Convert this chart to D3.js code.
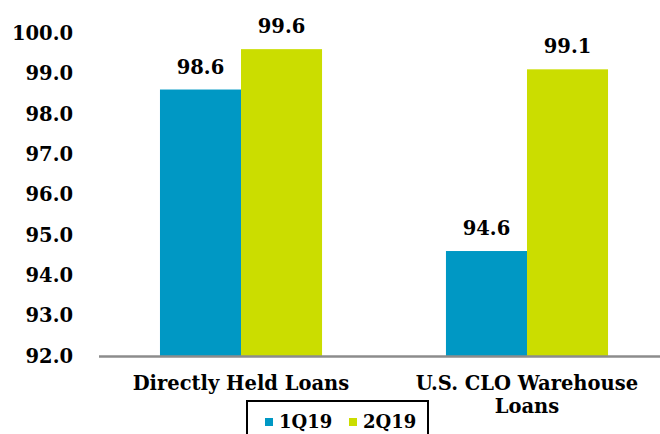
<!DOCTYPE html>
<html>
<head>
<meta charset="utf-8">
<script src="https://cdn.jsdelivr.net/npm/d3@7"></script>
<style>
  html, body { margin: 0; padding: 0; background: #fff; }
  svg { display: block; }
</style>
</head>
<body>
<svg id="chart" width="660" height="434"></svg>
<script>
// Loan price averages by category and quarter
const categories = ["Directly Held Loans", "U.S. CLO Warehouse Loans"];
const categoryLines = [["Directly Held Loans"], ["U.S. CLO Warehouse", "Loans"]];
const seriesNames = ["1Q19", "2Q19"];
const values1Q19 = [98.6, 94.6];
const values2Q19 = [99.6, 99.1];
const yTicks = [92, 93, 94, 95, 96, 97, 98, 99, 100];
const colors = ["#0098c4", "#cbdd00"];

const FONT = "DejaVu Serif";
const seriesValues = [values1Q19, values2Q19];
const svg = d3.select("#chart");

function styleText(sel, size) {
  return sel.attr("font-family", FONT)
    .attr("font-weight", "bold")
    .attr("font-size", size)
    .attr("fill", "#000");
}

const x = d3.scaleBand()
  .domain(categories)
  .range([98, 670])
  .paddingInner(0.4333)
  .paddingOuter(0.2167);

const xInner = d3.scaleBand()
  .domain(seriesNames)
  .range([0, x.bandwidth()]);

const y = d3.scaleLinear()
  .domain([92, 100])
  .range([356, 33]);

// Y-axis labels (no axis line or tick marks)
const yAxis = d3.axisLeft(y)
  .tickValues(yTicks)
  .tickFormat(d3.format(".1f"))
  .tickSize(0)
  .tickPadding(0);

svg.append("g")
  .attr("transform", "translate(73,0)")
  .call(yAxis)
  .call(g => g.attr("font-family", FONT))
  .call(g => g.select(".domain").remove())
  .call(g => styleText(g.selectAll("text"), 19.5));

// Bars
const groups = svg.append("g")
  .selectAll("g")
  .data(categories)
  .join("g")
  .attr("transform", d => `translate(${x(d)},0)`);

const barData = (d, i) => seriesNames.map((s, j) => ({ s, j, v: seriesValues[j][i] }));

groups.selectAll("rect")
  .data(barData)
  .join("rect")
  .attr("x", d => xInner(d.s))
  .attr("y", d => y(d.v))
  .attr("width", xInner.bandwidth())
  .attr("height", d => y(92) - y(d.v))
  .attr("fill", d => colors[d.j]);

// Value labels above bars
groups.selectAll("text.value")
  .data(barData)
  .join("text")
  .attr("class", "value")
  .attr("x", d => xInner(d.s) + xInner.bandwidth() / 2)
  .attr("y", d => y(d.v) - 16)
  .attr("text-anchor", "middle")
  .call(styleText, 19.5)
  .text(d => d.v.toFixed(1));

// Baseline
svg.append("line")
  .attr("x1", 99).attr("x2", 660)
  .attr("y1", y(92) + 0.5).attr("y2", y(92) + 0.5)
  .attr("stroke", "#8c8c8c")
  .attr("stroke-width", 2.5);

// Category labels
categories.forEach((c, i) => {
  const cx = x(c) + x.bandwidth() / 2;
  const t = svg.append("text")
    .attr("x", cx)
    .attr("y", 390)
    .attr("text-anchor", "middle")
    .call(styleText, 19.5);
  categoryLines[i].forEach((line, k) => {
    t.append("tspan")
      .attr("x", cx)
      .attr("dy", k === 0 ? 0 : 23)
      .text(line);
  });
});

// Legend
const legend = svg.append("g");
legend.append("rect")
  .attr("x", 247).attr("y", 401)
  .attr("width", 181).attr("height", 50)
  .attr("fill", "none")
  .attr("stroke", "#000")
  .attr("stroke-width", 2);

const legendX = [265, 349];
seriesNames.forEach((s, j) => {
  legend.append("rect")
    .attr("x", legendX[j]).attr("y", 418)
    .attr("width", 8).attr("height", 8)
    .attr("fill", colors[j]);
  legend.append("text")
    .attr("x", legendX[j] + 14)
    .attr("y", 428)
    .call(styleText, 18)
    .text(s);
});
</script>
</body>
</html>
